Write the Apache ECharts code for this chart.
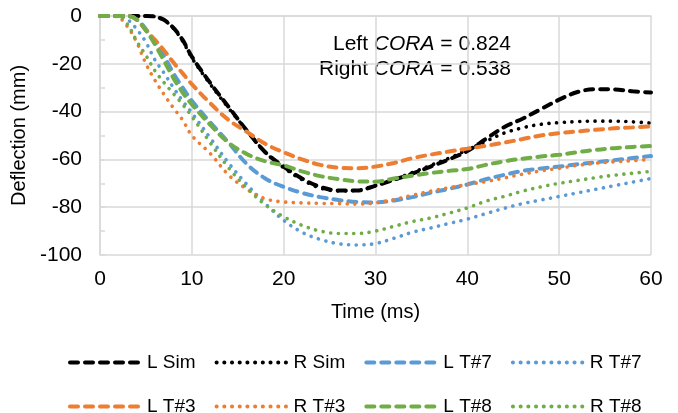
<!DOCTYPE html>
<html>
<head>
<meta charset="utf-8">
<script src="https://cdn.jsdelivr.net/npm/echarts@6/dist/echarts.min.js"></script>
<style>
  html, body { margin: 0; padding: 0; background: #fff; }
  #chart { width: 678px; height: 413px; }
</style>
</head>
<body>
<div id="chart"></div>
<script>
// time axis (ms), shared by every series
const timeMs = [0, 1, 2, 3, 4, 5, 6, 7, 8, 9, 10, 12, 14, 16, 18, 20, 22, 24, 26, 28, 30,
    32, 34, 36, 38, 40, 42, 44, 46, 48, 50, 52, 54, 56, 58, 60];

// deflection (mm)
const lSim = [0, 0, 0, 0, 0, 0, -0.3, -1.7, -5, -10, -17, -28, -38, -48, -57, -63, -68, -71.5, -73, -73, -71,
    -68.5, -66, -63, -60, -56.5, -51.5, -46.5, -43, -39, -35, -31.8, -30.6, -30.7, -31.5, -32];
const rSim = [0, 0, 0, 0, 0, 0, -0.3, -1.8, -5.2, -10.5, -17.5, -28.5, -38.5, -48, -57, -63.5, -68.5, -72, -73.2, -73, -71,
    -68.5, -65.5, -62.5, -59.5, -56, -52.5, -49, -46.8, -45.3, -44.6, -44.2, -44, -44, -44.3, -44.8];
const lT7 = [0, 0, 0, 0, -1.5, -5.5, -11, -17, -24, -30, -35.5, -44.5, -53, -62, -68, -71.5, -74, -75.8, -77, -77.8, -78,
    -77.2, -75.8, -74, -72.3, -70.5, -68.3, -66.5, -64.8, -63.8, -63, -62, -61.2, -60.3, -59.4, -58.6];
const rT7 = [0, 0, 0, -1.5, -5.5, -11, -18.5, -24, -30, -35.5, -40.5, -51, -61.5, -70.5, -78.5, -85.5, -90.5, -93.5, -95.3, -95.8, -95.2,
    -93, -90.5, -88.7, -86.8, -85, -82.7, -80.5, -78.5, -77, -75.5, -74, -72.5, -71, -69.5, -68];
const lT3 = [0, 0, 0, 0, -1.5, -6, -10, -14.5, -19.5, -24, -28.5, -36.5, -43.5, -48.5, -53.5, -57, -60, -62.3, -63.5, -63.7, -63,
    -61.5, -59.5, -58, -56.7, -55.5, -54.3, -53, -51.5, -50, -49, -48.3, -47.6, -47, -46.6, -46.2];
const rT3 = [0, 0, -0.5, -4.5, -11, -20, -27, -33, -38.5, -43.5, -50, -57.5, -66.5, -72.5, -76.5, -77.8, -78.2, -78.4, -78.5, -78.7, -78.2,
    -76.8, -75, -73.3, -71.8, -70.5, -69.3, -67.8, -66.2, -64.8, -63.7, -62.5, -61.6, -61, -60.5, -60];
const lT8 = [0, 0, 0, 0, -1.5, -6, -12, -19, -26, -32, -37, -45.5, -53, -57.8, -60.8, -62.5, -65, -67, -68.3, -69.2, -69.3,
    -68, -66.8, -65.7, -64.8, -64, -62.3, -60.8, -59.7, -58.8, -58.1, -57, -56, -55.3, -54.8, -54.4];
const rT8 = [0, 0, 0, -3.5, -10.5, -16.5, -23, -28, -32.5, -37, -42, -53, -63.5, -72, -79, -84, -87.6, -90, -91, -91, -90,
    -88, -86, -84.5, -82.5, -80.3, -77.5, -75.5, -73.3, -71.5, -70, -68.8, -67.6, -66.6, -65.8, -65];

const seriesNames = ['L Sim', 'R Sim', 'L T#7', 'R T#7', 'L T#3', 'R T#3', 'L T#8', 'R T#8'];
const seriesValues = [lSim, rSim, lT7, rT7, lT3, rT3, lT8, rT8];
const seriesColors = ['#000000', '#000000', '#5B9BD5', '#5B9BD5', '#ED7D31', '#ED7D31', '#70AD47', '#70AD47'];

const FONT = '"Liberation Sans", Arial, sans-serif';
const DASH = [8, 7];
const DOT = [0.1, 7.6];

const chart = echarts.init(document.getElementById('chart'), null, { renderer: 'canvas' });

const series = seriesNames.map((name, i) => {
    const dotted = name.startsWith('R');
    return {
        name: name,
        type: 'line',
        smooth: 0.35,
        symbol: 'none',
        data: timeMs.map((t, k) => [t, seriesValues[i][k]]),
        lineStyle: {
            color: seriesColors[i],
            width: dotted ? 3.6 : 4,
            type: dotted ? DOT : DASH,
            cap: 'round'
        },
        itemStyle: { color: seriesColors[i] }
    };
});

// legend: line icon only, the circle marker is hidden
const legendCommon = {
    left: 63,
    itemWidth: 72,
    itemHeight: 14,
    itemGap: 19,
    itemStyle: { opacity: 0 },
    lineStyle: { width: 4, cap: 'round' },
    textStyle: { fontFamily: FONT, fontSize: 19, color: '#000' }
};

const richText = {
    a: { fontFamily: FONT, fontSize: 21, fill: '#000' },
    i: { fontFamily: FONT, fontSize: 21, fontStyle: 'italic', fill: '#000' }
};

const option = {
    animation: false,
    backgroundColor: '#fff',
    grid: { left: 100, right: 27, top: 16, bottom: 158 },
    xAxis: {
        type: 'value',
        min: 0,
        max: 60,
        interval: 10,
        name: 'Time (ms)',
        nameLocation: 'middle',
        nameGap: 47,
        nameTextStyle: { fontFamily: FONT, fontSize: 20, color: '#000' },
        axisLine: { show: true, lineStyle: { color: '#d9d9d9', width: 1.5 } },
        axisTick: { show: false },
        axisLabel: { fontFamily: FONT, fontSize: 21, color: '#000', margin: 14 },
        splitLine: { show: true, lineStyle: { color: '#d9d9d9', width: 1.5 } }
    },
    yAxis: {
        type: 'value',
        min: -100,
        max: 0,
        interval: 20,
        name: 'Deflection (mm)',
        nameLocation: 'middle',
        nameGap: 67,
        nameTextStyle: { fontFamily: FONT, fontSize: 20, color: '#000' },
        axisLine: { show: true, lineStyle: { color: '#d9d9d9', width: 1.5 } },
        axisTick: { show: true, inside: true, length: 5, lineStyle: { color: '#d9d9d9', width: 1.5 } },
        minorTick: { show: true, splitNumber: 2, length: 5, lineStyle: { color: '#d9d9d9', width: 1.5 } },
        axisLabel: { fontFamily: FONT, fontSize: 21, color: '#000', margin: 18 },
        splitLine: { show: true, lineStyle: { color: '#d9d9d9', width: 1.5 } }
    },
    legend: [
        Object.assign({}, legendCommon, { top: 348, data: seriesNames.slice(0, 4) }),
        Object.assign({}, legendCommon, { top: 392, data: seriesNames.slice(4, 8) })
    ],
    graphic: [
        {
            type: 'text',
            right: 678 - 511,
            top: 34,
            style: { text: '{a|Left }{i|CORA}{a| = 0.824}', rich: richText }
        },
        {
            type: 'text',
            right: 678 - 511,
            top: 59,
            style: { text: '{a|Right }{i|CORA}{a| = 0.538}', rich: richText }
        }
    ],
    series: series
};

chart.setOption(option);
</script>
</body>
</html>
